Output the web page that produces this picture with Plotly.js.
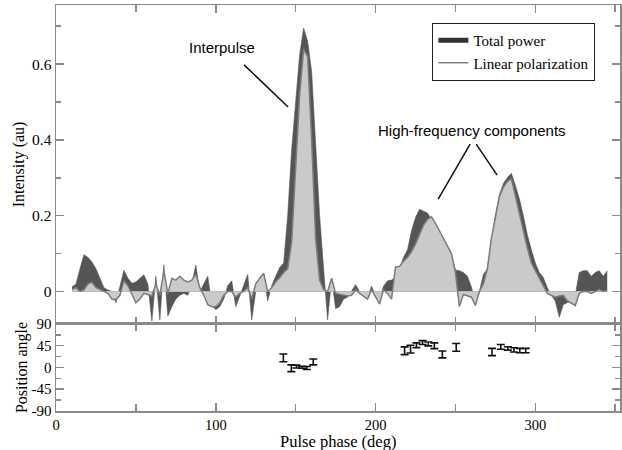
<!DOCTYPE html>
<html>
<head>
<meta charset="utf-8">
<script src="https://cdn.plot.ly/plotly-3.0.1.min.js"></script>
<style>html,body{margin:0;padding:0;background:#fff;}#chart{width:622px;height:450px;}</style>
</head>
<body>
<div id="chart"></div>
<script>
const phase = [10, 12.5, 15, 17.5, 20, 22.5, 25, 27.5, 30, 32.5,
  35, 37.5, 40, 42.5, 45, 47.5, 50, 52.5, 55, 57.5,
  60, 62.5, 65, 67.5, 70, 72.5, 75, 77.5, 80, 82.5,
  85, 87.5, 90, 92.5, 95, 97.5, 100, 102.5, 105, 107.5,
  110, 112.5, 115, 117.5, 120, 122.5, 125, 127.5, 130, 132.5,
  135, 137.5, 140, 142.5, 145, 147.5, 150, 152.5, 155, 157.5,
  160, 162.5, 165, 167.5, 170, 172.5, 175, 177.5, 180, 182.5,
  185, 187.5, 190, 192.5, 195, 197.5, 200, 202.5, 205, 207.5,
  210, 212.5, 215, 217.5, 220, 222.5, 225, 227.5, 230, 232.5,
  235, 237.5, 240, 242.5, 245, 247.5, 250, 252.5, 255, 257.5,
  260, 262.5, 265, 267.5, 270, 272.5, 275, 277.5, 280, 282.5,
  285, 287.5, 290, 292.5, 295, 297.5, 300, 302.5, 305, 307.5,
  310, 312.5, 315, 317.5, 320, 322.5, 325, 327.5, 330, 332.5,
  335, 337.5, 340, 342.5, 345];

const totalPower = [0.012, 0.02, 0.06, 0.097, 0.09, 0.078, 0.06, 0.035, 0.01, 0.004,
  0.0, -0.03, 0.015, 0.056, 0.035, 0.022, 0.025, 0.035, 0.044, 0.02,
  -0.078, 0.04, -0.075, 0.07, -0.065, -0.04, -0.02, -0.01, -0.005, -0.01,
  0.02, 0.07, 0.0, 0.02, 0.04, -0.035, -0.048, -0.04, -0.02, 0.015,
  0.028, -0.04, -0.01, 0.02, 0.045, -0.075, 0.0, 0.02, 0.045, -0.025,
  0.015, 0.04, 0.063, 0.075, 0.2, 0.375, 0.51, 0.625, 0.695, 0.66,
  0.58, 0.39, 0.2, 0.06, -0.075, 0.035, -0.045, -0.04, -0.02, -0.015,
  0.0, 0.018, 0.0, -0.01, -0.015, 0.014, -0.01, -0.02, 0.014, 0.028,
  0.03, 0.037, 0.06, 0.09, 0.11, 0.16, 0.195, 0.217, 0.212, 0.207,
  0.19, 0.17, 0.155, 0.14, 0.115, 0.095, 0.057, 0.055, 0.05, 0.04,
  0.012, -0.033, 0.0, 0.045, 0.06, 0.13, 0.2, 0.255, 0.285, 0.3,
  0.312, 0.28, 0.245, 0.2, 0.15, 0.11, 0.075, 0.05, 0.037, 0.01,
  -0.01, -0.025, -0.068, -0.035, -0.03, -0.024, -0.01, 0.05, 0.055, 0.055,
  0.04, 0.05, 0.055, 0.04, 0.055];

const linearPol = [0.005, 0.01, 0.0, 0.004, 0.02, 0.024, 0.01, 0.005, 0.0, -0.005,
  -0.02, -0.022, -0.01, 0.028, 0.015, -0.01, -0.03, -0.02, -0.005, -0.008,
  -0.012, 0.02, -0.01, 0.055, -0.005, 0.035, 0.03, 0.04, 0.03, 0.025,
  0.03, 0.046, 0.01, -0.01, -0.035, -0.04, -0.04, -0.03, -0.01, 0.0,
  0.0, -0.015, -0.005, 0.0, 0.01, -0.02, 0.02, 0.035, 0.048, 0.0,
  0.01, 0.025, 0.036, 0.05, 0.06, 0.13, 0.34, 0.52, 0.64, 0.62,
  0.40, 0.14, 0.03, 0.005, 0.0, 0.035, -0.005, -0.008, -0.01, -0.012,
  -0.01, 0.005, -0.005, -0.012, -0.02, 0.005, -0.015, -0.033, 0.005, -0.005,
  -0.02, 0.065, 0.066, 0.08, 0.09, 0.105, 0.125, 0.15, 0.175, 0.19,
  0.197, 0.18, 0.16, 0.14, 0.12, 0.1, 0.05, -0.04, -0.008, -0.012,
  -0.015, -0.037, 0.0, 0.02, 0.06, 0.14, 0.195, 0.25, 0.275, 0.29,
  0.298, 0.25, 0.2, 0.16, 0.115, 0.075, 0.055, 0.035, 0.016, -0.005,
  -0.01, -0.015, -0.012, -0.01, -0.024, -0.03, -0.037, -0.005, 0.0, 0.0,
  -0.005, 0.0, 0.005, 0.0, 0.003];

const paPhase = [142.3, 147.3, 150.5, 154, 157, 161,
  218.2, 221.9, 225.6, 229.4, 233, 236.8, 241.8, 250.5,
  272.9, 278.4, 282.8, 286.6, 290.3, 294];
const paValue = [20, -1.5, 2, 0.5, -1, 11.5,
  34.6, 38, 46, 51.5, 48.7, 45, 27, 41.6,
  32, 42.7, 39.5, 36.4, 35, 35];
const paError = [8, 7, 3, 2, 3, 6,
  8, 8, 5, 4, 4, 6, 7, 8,
  7.5, 5, 3.5, 4.5, 4.5, 4.5];

const intensityTicks = [0, 0.2, 0.4, 0.6];
const intensityLabels = ['0', '0.2', '0.4', '0.6'];
const angleTicks = [-90, -45, 0, 45, 90];
const angleLabels = ['-90', '-45', '0', '45', '90'];
const phaseTicks = [0, 100, 200, 300];
const phaseLabels = ['0', '100', '200', '300'];

const serif = 'Liberation Serif, Times New Roman, serif';
const sans = 'Liberation Sans, Arial, sans-serif';
const axisCol = '#8a8a8a';

const traces = [
  {x: phase, y: totalPower, xaxis: 'x2', yaxis: 'y2', mode: 'lines', fill: 'tozeroy',
   fillcolor: '#555555', line: {color: '#555555', width: 0.6}, showlegend: false, hoverinfo: 'skip'},
  {x: phase, y: linearPol, xaxis: 'x2', yaxis: 'y2', mode: 'lines', fill: 'tozeroy',
   fillcolor: '#cacaca', line: {color: '#7c7c7c', width: 1.5}, showlegend: false, hoverinfo: 'skip'},
  {x: [null], y: [null], xaxis: 'x2', yaxis: 'y2', mode: 'lines', name: 'Total power',
   line: {color: '#333333', width: 5}},
  {x: [null], y: [null], xaxis: 'x2', yaxis: 'y2', mode: 'lines', name: 'Linear polarization',
   line: {color: '#444444', width: 1}},
  {x: paPhase, y: paValue, xaxis: 'x', yaxis: 'y', mode: 'markers', showlegend: false,
   marker: {size: 1, color: 'rgba(0,0,0,0)'},
   error_y: {type: 'data', array: paError, visible: true, color: '#111', thickness: 1.6, width: 4}}
];

const commonX = {range: [0, 353], showline: true, linecolor: axisCol, linewidth: 1.5,
  mirror: 'ticks', ticks: 'inside', ticklen: 8, tickcolor: axisCol, tickwidth: 1.5,
  tickvals: phaseTicks, ticktext: phaseLabels, showgrid: false, zeroline: false, automargin: false,
  minor: {dtick: 50, tick0: 0, ticks: 'inside', ticklen: 7, tickcolor: axisCol, tickwidth: 1.5, showgrid: false}};

const layout = {
  width: 622, height: 450,
  margin: {l: 56, r: 2, t: 5, b: 39},
  paper_bgcolor: '#fff', plot_bgcolor: '#fff',
  font: {family: serif, size: 15, color: '#000'},
  showlegend: true,
  legend: {x: 0.667, y: 0.956, xanchor: 'left', yanchor: 'top', bgcolor: '#fff',
    bordercolor: '#222', borderwidth: 1.2, font: {family: serif, size: 15, color: '#000'},
    tracegroupgap: 0, itemwidth: 30},
  xaxis: Object.assign({}, commonX, {anchor: 'y', domain: [0, 1], showticklabels: true,
    tickfont: {family: serif, size: 14.5}}),
  xaxis2: Object.assign({}, commonX, {anchor: 'y2', domain: [0, 1], showticklabels: false}),
  yaxis: {domain: [0, 0.2143], range: [-90, 90], tickvals: angleTicks, ticktext: angleLabels, ticks: 'inside',
    ticklen: 8, tickcolor: axisCol, tickwidth: 1.5, showline: true, linecolor: axisCol, linewidth: 1.5,
    mirror: 'ticks', showgrid: false, zeroline: false, anchor: 'x', automargin: false,
    tickfont: {family: serif, size: 15},
    minor: {dtick: 22.5, tick0: 0, ticks: 'inside', ticklen: 5, tickcolor: axisCol, tickwidth: 1.5, showgrid: false},
    title: {text: 'Position angle', font: {family: serif, size: 16}, standoff: 0}},
  yaxis2: {domain: [0.2143, 1], range: [-0.0858, 0.756], tickvals: intensityTicks,
    ticktext: intensityLabels, ticks: 'inside',
    ticklen: 8, tickcolor: axisCol, tickwidth: 1.5, showline: true, linecolor: axisCol, linewidth: 1.5,
    mirror: 'ticks', showgrid: false, zeroline: false, anchor: 'x2', automargin: false,
    tickfont: {family: serif, size: 15.5},
    minor: {dtick: 0.1, tick0: 0, ticks: 'inside', ticklen: 5, tickcolor: axisCol, tickwidth: 1.5, showgrid: false},
    title: {text: 'Intensity (au)', font: {family: serif, size: 16}, standoff: 3}},
  shapes: [
    {type: 'line', xref: 'x2', yref: 'y2', x0: 117.7, y0: 0.598, x1: 145.3, y1: 0.487, line: {color: '#111', width: 1.5}},
    {type: 'line', xref: 'x2', yref: 'y2', x0: 259.2, y0: 0.389, x1: 239.2, y1: 0.244, line: {color: '#111', width: 1.5}},
    {type: 'line', xref: 'x2', yref: 'y2', x0: 263.0, y0: 0.389, x1: 276.1, y1: 0.307, line: {color: '#111', width: 1.5}}
  ],
  annotations: [
    {xref: 'x2', yref: 'y2', x: 104, y: 0.645, text: 'Interpulse', showarrow: false,
     font: {family: sans, size: 15, color: '#000'}},
    {xref: 'x2', yref: 'y2', x: 260.5, y: 0.426, text: 'High-frequency components', showarrow: false,
     font: {family: sans, size: 15, color: '#000'}},
    {xref: 'paper', yref: 'paper', x: 0.5, y: 0, yanchor: 'middle', yshift: -30.5,
     text: 'Pulse phase (deg)', showarrow: false, font: {family: serif, size: 16.5, color: '#000'}}
  ]
};

Plotly.newPlot('chart', traces, layout, {displayModeBar: false, staticPlot: true});
</script>
</body>
</html>
